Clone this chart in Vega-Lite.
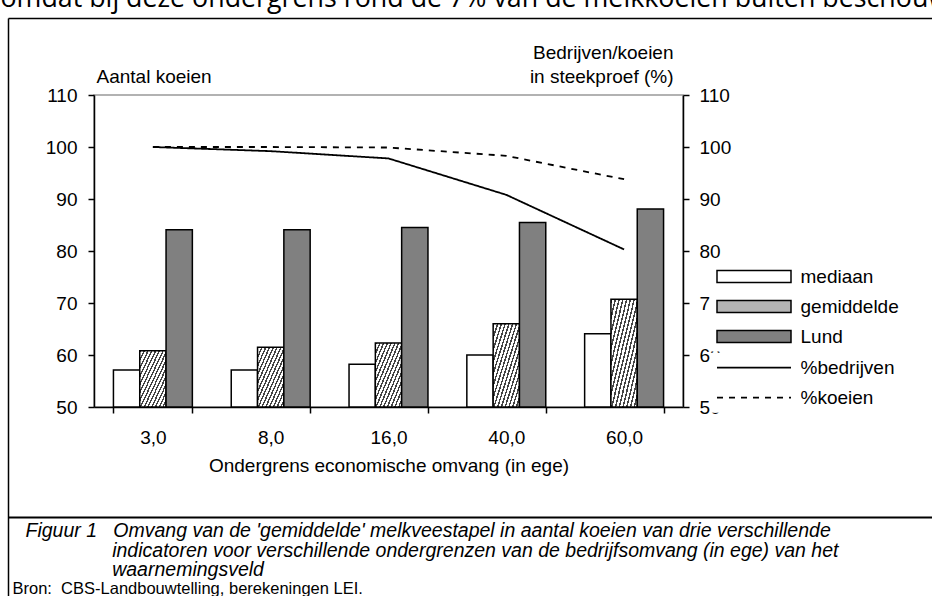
{
  "$schema": "https://vega.github.io/schema/vega-lite/v6.json",
  "width": 589,
  "height": 312,
  "autosize": {"type": "none"},
  "padding": {"left": 94, "top": 95, "right": 249, "bottom": 189},
  "background": "white",
  "datasets": {
    "bars": [
      {"cat": "3,0", "serie": "mediaan", "value": 57.1},
      {"cat": "3,0", "serie": "gemiddelde", "value": 60.8},
      {"cat": "3,0", "serie": "Lund", "value": 84.1},
      {"cat": "8,0", "serie": "mediaan", "value": 57.1},
      {"cat": "8,0", "serie": "gemiddelde", "value": 61.5},
      {"cat": "8,0", "serie": "Lund", "value": 84.1},
      {"cat": "16,0", "serie": "mediaan", "value": 58.2},
      {"cat": "16,0", "serie": "gemiddelde", "value": 62.3},
      {"cat": "16,0", "serie": "Lund", "value": 84.5},
      {"cat": "40,0", "serie": "mediaan", "value": 60.0},
      {"cat": "40,0", "serie": "gemiddelde", "value": 66.0},
      {"cat": "40,0", "serie": "Lund", "value": 85.5},
      {"cat": "60,0", "serie": "mediaan", "value": 64.1},
      {"cat": "60,0", "serie": "gemiddelde", "value": 70.7},
      {"cat": "60,0", "serie": "Lund", "value": 88.1}
    ],
    "lines": [
      {"cat": "3,0", "reeks": "%bedrijven", "pct": 100.0},
      {"cat": "8,0", "reeks": "%bedrijven", "pct": 99.2},
      {"cat": "16,0", "reeks": "%bedrijven", "pct": 97.8},
      {"cat": "40,0", "reeks": "%bedrijven", "pct": 90.8},
      {"cat": "60,0", "reeks": "%bedrijven", "pct": 80.3},
      {"cat": "3,0", "reeks": "%koeien", "pct": 100.0},
      {"cat": "8,0", "reeks": "%koeien", "pct": 100.0},
      {"cat": "16,0", "reeks": "%koeien", "pct": 99.9},
      {"cat": "40,0", "reeks": "%koeien", "pct": 98.3},
      {"cat": "60,0", "reeks": "%koeien", "pct": 93.8}
    ],
    "frame": [{"k": 0}]
  },
  "layer": [
    {
      "layer": [
        {
          "data": {"name": "bars"},
          "mark": {"type": "bar", "stroke": "black", "strokeWidth": 1.5},
          "encoding": {
            "x": {
              "field": "cat", "type": "nominal",
              "sort": ["3,0", "8,0", "16,0", "40,0", "60,0"],
              "scale": {"paddingInner": 0.33, "paddingOuter": 0.165},
              "axis": {
                "title": "Ondergrens economische omvang (in ege)",
                "labelAngle": 0, "tickBand": "extent", "tickSize": 6,
                "labelPadding": 15, "titleY": 64, "titleBaseline": "alphabetic"
              }
            },
            "xOffset": {
              "field": "serie", "type": "nominal",
              "sort": ["mediaan", "gemiddelde", "Lund"],
              "scale": {"paddingInner": 0, "paddingOuter": 0}
            },
            "y": {
              "field": "value", "type": "quantitative",
              "scale": {"domain": [50, 110], "zero": false, "nice": false},
              "axis": {
                "orient": "left", "values": [50, 60, 70, 80, 90, 100, 110],
                "title": "Aantal koeien", "titleAngle": 0, "titleAlign": "left",
                "titleBaseline": "alphabetic", "titleX": 2, "titleY": -13,
                "labelPadding": 11, "tickSize": 6
              }
            },
            "y2": {"datum": 50},
            "fill": {
              "condition": {
                "test": "datum.serie === 'gemiddelde'",
                "value": {
                  "gradient": "linear", "x1": 0, "y1": 0, "x2": 1, "y2": 1,
                  "stops": [
                    {"offset": 0, "color": "#444"}, {"offset": 0.0286, "color": "#444"}, {"offset": 0.0286, "color": "#fff"}, {"offset": 0.0714, "color": "#fff"},
                    {"offset": 0.0714, "color": "#444"}, {"offset": 0.1, "color": "#444"}, {"offset": 0.1, "color": "#fff"}, {"offset": 0.1429, "color": "#fff"},
                    {"offset": 0.1429, "color": "#444"}, {"offset": 0.1714, "color": "#444"}, {"offset": 0.1714, "color": "#fff"}, {"offset": 0.2143, "color": "#fff"},
                    {"offset": 0.2143, "color": "#444"}, {"offset": 0.2429, "color": "#444"}, {"offset": 0.2429, "color": "#fff"}, {"offset": 0.2857, "color": "#fff"},
                    {"offset": 0.2857, "color": "#444"}, {"offset": 0.3143, "color": "#444"}, {"offset": 0.3143, "color": "#fff"}, {"offset": 0.3571, "color": "#fff"},
                    {"offset": 0.3571, "color": "#444"}, {"offset": 0.3857, "color": "#444"}, {"offset": 0.3857, "color": "#fff"}, {"offset": 0.4286, "color": "#fff"},
                    {"offset": 0.4286, "color": "#444"}, {"offset": 0.4571, "color": "#444"}, {"offset": 0.4571, "color": "#fff"}, {"offset": 0.5, "color": "#fff"},
                    {"offset": 0.5, "color": "#444"}, {"offset": 0.5286, "color": "#444"}, {"offset": 0.5286, "color": "#fff"}, {"offset": 0.5714, "color": "#fff"},
                    {"offset": 0.5714, "color": "#444"}, {"offset": 0.6, "color": "#444"}, {"offset": 0.6, "color": "#fff"}, {"offset": 0.6429, "color": "#fff"},
                    {"offset": 0.6429, "color": "#444"}, {"offset": 0.6714, "color": "#444"}, {"offset": 0.6714, "color": "#fff"}, {"offset": 0.7143, "color": "#fff"},
                    {"offset": 0.7143, "color": "#444"}, {"offset": 0.7429, "color": "#444"}, {"offset": 0.7429, "color": "#fff"}, {"offset": 0.7857, "color": "#fff"},
                    {"offset": 0.7857, "color": "#444"}, {"offset": 0.8143, "color": "#444"}, {"offset": 0.8143, "color": "#fff"}, {"offset": 0.8571, "color": "#fff"},
                    {"offset": 0.8571, "color": "#444"}, {"offset": 0.8857, "color": "#444"}, {"offset": 0.8857, "color": "#fff"}, {"offset": 0.9286, "color": "#fff"},
                    {"offset": 0.9286, "color": "#444"}, {"offset": 0.9571, "color": "#444"}, {"offset": 0.9571, "color": "#fff"}, {"offset": 1, "color": "#fff"}
                  ]
                }
              },
              "field": "serie", "type": "nominal",
              "scale": {
                "domain": ["mediaan", "gemiddelde", "Lund"],
                "range": ["#ffffff", "#b4b4b4", "#808080"]
              },
              "legend": {
                "orient": "none", "legendX": 616, "legendY": 166.5, "title": null,
                "symbolType": "M-1,-0.16H1V0.16H-1Z", "symbolSize": 5476,
                "symbolStrokeColor": "black", "symbolStrokeWidth": 1.5,
                "symbolOffset": 6, "labelOffset": 8.5, "clipHeight": 30,
                "rowPadding": 0, "padding": 0, "fillColor": "white",
                "labelFont": "Liberation Sans", "labelFontSize": 19, "labelColor": "black", "labelLimit": 300
              }
            }
          }
        },
        {
          "data": {"name": "lines"},
          "mark": {"type": "line", "color": "black", "strokeWidth": 1.8},
          "encoding": {
            "x": {
              "field": "cat", "type": "nominal",
              "sort": ["3,0", "8,0", "16,0", "40,0", "60,0"]
            },
            "y": {
              "field": "pct", "type": "quantitative",
              "scale": {"domain": [50, 110], "zero": false, "nice": false},
              "axis": {
                "orient": "right", "values": [50, 60, 70, 80, 90, 100, 110],
                "title": ["Bedrijven/koeien", "in steekproef (%)"], "titleAngle": 0,
                "titleAlign": "right", "titleBaseline": "alphabetic",
                "titleX": -10, "titleY": -37, "titleLineHeight": 24,
                "labelPadding": 10, "tickSize": 6
              }
            },
            "strokeDash": {
              "field": "reeks", "type": "nominal",
              "scale": {"domain": ["%bedrijven", "%koeien"], "range": [[1, 0], [6, 6]]},
              "legend": {
                "orient": "none", "legendX": 616, "legendY": 257.7, "title": null,
                "symbolType": "stroke", "symbolSize": 5476,
                "symbolStrokeColor": "black", "symbolStrokeWidth": 1.8,
                "symbolOffset": 6, "labelOffset": 8.5, "clipHeight": 30,
                "rowPadding": 0, "padding": 0, "fillColor": "white",
                "labelFont": "Liberation Sans", "labelFontSize": 19, "labelColor": "black", "labelLimit": 300
              }
            }
          }
        }
      ],
      "resolve": {"scale": {"y": "independent"}}
    },
    {
      "data": {"name": "frame"},
      "mark": {"type": "point", "opacity": 0},
      "encoding": {
        "x": {
          "field": "k", "type": "quantitative",
          "scale": {"domain": [0, 1], "range": [-86, 860], "nice": false, "zero": false},
          "axis": {
            "orient": "top", "offset": 77, "domainWidth": 1.5, "ticks": false, "labels": false,
            "title": "omdat bij deze ondergrens rond de 7% van de melkkoeien buiten beschouwing",
            "titleX": -94, "titleY": -12, "titleAlign": "left", "titleBaseline": "alphabetic",
            "titleFont": "Open Sans", "titleFontSize": 26.8
          }
        },
        "y": {
          "field": "k", "type": "quantitative",
          "scale": {"domain": [0, 1], "range": [510, -77], "nice": false, "zero": false},
          "axis": {
            "orient": "left", "offset": 86, "domainWidth": 1.5, "ticks": false, "labels": false,
            "title": "Bron:\u00a0\u00a0CBS-Landbouwtelling, berekeningen LEI.",
            "titleAngle": 0, "titleAlign": "left", "titleBaseline": "alphabetic",
            "titleX": 4, "titleY": 498, "titleFontSize": 16.5
          }
        }
      }
    },
    {
      "data": {"name": "frame"},
      "mark": {"type": "point", "opacity": 0},
      "encoding": {
        "x": {
          "field": "k", "type": "quantitative",
          "scale": {"domain": [0, 1], "range": [-86, 860], "nice": false, "zero": false},
          "axis": {
            "orient": "bottom", "offset": 110, "domainWidth": 2, "ticks": false, "labels": false,
            "title": [
              "Figuur 1\u00a0\u00a0\u00a0Omvang van de 'gemiddelde' melkveestapel in aantal koeien van drie verschillende",
              "\u200b\u00a0\u00a0\u00a0\u00a0\u00a0\u00a0\u00a0\u00a0\u00a0\u00a0\u00a0\u00a0\u00a0\u00a0\u00a0\u00a0indicatoren voor verschillende ondergrenzen van de bedrijfsomvang (in ege) van het",
              "\u200b\u00a0\u00a0\u00a0\u00a0\u00a0\u00a0\u00a0\u00a0\u00a0\u00a0\u00a0\u00a0\u00a0\u00a0\u00a0\u00a0waarnemingsveld"
            ],
            "titleX": -69, "titleY": 19.5, "titleAlign": "left", "titleBaseline": "alphabetic",
            "titleFontSize": 19.5, "titleFontStyle": "italic", "titleLineHeight": 19.5
          }
        }
      }
    }
  ],
  "resolve": {"scale": {"x": "independent", "y": "independent"}},
  "config": {
    "view": {"stroke": "#999999", "strokeWidth": 1.5},
    "font": "Liberation Sans",
    "axis": {
      "domainColor": "black", "domainWidth": 1.5, "tickColor": "black", "tickWidth": 1.5,
      "labelFont": "Liberation Sans", "labelFontSize": 19, "labelColor": "black",
      "titleFont": "Liberation Sans", "titleFontSize": 19, "titleFontWeight": "normal", "titleColor": "black",
      "grid": false
    }
  }
}
